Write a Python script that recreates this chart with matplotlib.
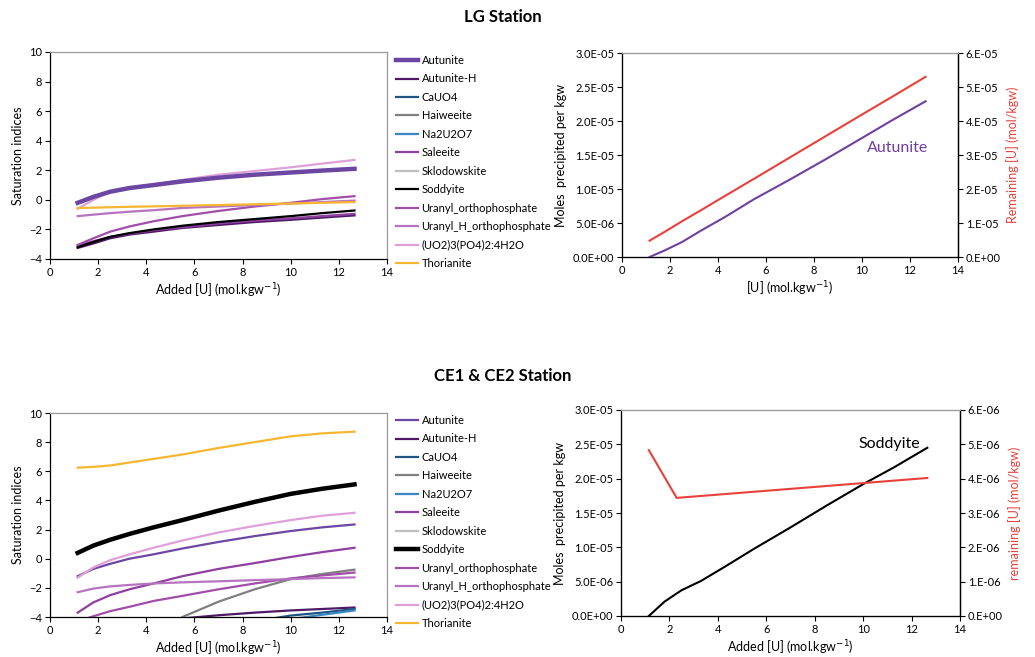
import numpy as np
import matplotlib.pyplot as plt
from matplotlib.ticker import FuncFormatter
from matplotlib.lines import Line2D

plt.rcParams['font.family'] = ['Lato', 'DejaVu Sans']

# ---- data ----
minerals = ["Autunite", "Autunite-H", "CaUO4", "Haiweeite", "Na2U2O7", "Saleeite",
            "Sklodowskite", "Soddyite", "Uranyl_orthophosphate",
            "Uranyl_H_orthophosphate", "(UO2)3(PO4)2:4H2O", "Thorianite"]
colors = ["#6B47A3", "#4E1A66", "#1F5582", "#7F7F7F", "#3A86C4", "#8E3FA0",
          "#BFBFBF", "#000000", "#A04EA8", "#B873C0", "#DDA0D8", "#F5B731"]

u_added = [1.15, 1.8, 2.5, 3.3, 4.3, 5.5, 7.0, 8.5, 10.0, 11.3, 12.65]
nan = np.nan

# LG station saturation indices (series not visible in the range are left out)
si_lg = {
    "Autunite": [-0.2, 0.2, 0.55, 0.8, 1.0, 1.25, 1.5, 1.7, 1.85, 1.98, 2.1],
    "Autunite-H": [-3.25, -2.95, -2.6, -2.35, -2.15, -1.9, -1.7, -1.5, -1.35, -1.2, -1.05],
    "Saleeite": [-3.1, -2.8, -2.5, -2.3, -2.05, -1.85, -1.6, -1.4, -1.25, -1.1, -0.95],
    "Soddyite": [-3.2, -2.85, -2.5, -2.25, -2.0, -1.75, -1.5, -1.3, -1.1, -0.9, -0.72],
    "Uranyl_orthophosphate": [-3.05, -2.6, -2.15, -1.8, -1.45, -1.1, -0.75, -0.45, -0.2, 0.05, 0.25],
    "Uranyl_H_orthophosphate": [-1.1, -1.0, -0.9, -0.8, -0.7, -0.55, -0.45, -0.35, -0.25, -0.15, -0.05],
    "(UO2)3(PO4)2:4H2O": [-0.6, 0.0, 0.55, 0.8, 1.05, 1.35, 1.7, 1.95, 2.2, 2.45, 2.7],
    "Thorianite": [-0.55, -0.53, -0.5, -0.47, -0.44, -0.4, -0.35, -0.3, -0.25, -0.2, -0.15],
}

# CE1 & CE2 station saturation indices
si_ce = {
    "Autunite": [-1.2, -0.7, -0.35, 0.0, 0.3, 0.7, 1.15, 1.55, 1.9, 2.15, 2.35],
    "Autunite-H": [nan, nan, nan, nan, nan, -4.1, -3.88, -3.7, -3.55, -3.45, -3.35],
    "CaUO4": [nan, nan, nan, nan, nan, nan, nan, -4.3, -3.9, -3.7, -3.45],
    "Haiweeite": [nan, nan, nan, nan, nan, -4.0, -2.95, -2.1, -1.4, -1.05, -0.75],
    "Na2U2O7": [nan, nan, nan, nan, nan, nan, nan, nan, -4.15, -3.85, -3.55],
    "Saleeite": [-3.7, -3.0, -2.5, -2.1, -1.7, -1.2, -0.7, -0.3, 0.12, 0.45, 0.75],
    "Soddyite": [0.4, 0.9, 1.3, 1.7, 2.15, 2.65, 3.3, 3.9, 4.45, 4.8, 5.1],
    "Uranyl_orthophosphate": [-4.3, -3.95, -3.6, -3.3, -2.9, -2.55, -2.1, -1.7, -1.35, -1.15, -0.95],
    "Uranyl_H_orthophosphate": [-2.3, -2.05, -1.9, -1.8, -1.7, -1.62, -1.55, -1.47, -1.4, -1.33, -1.28],
    "(UO2)3(PO4)2:4H2O": [-1.3, -0.6, -0.1, 0.3, 0.75, 1.25, 1.8, 2.25, 2.65, 2.95, 3.15],
    "Thorianite": [6.25, 6.3, 6.4, 6.6, 6.85, 7.15, 7.6, 8.0, 8.4, 8.6, 8.72],
}

# precipitated moles and remaining U
autunite_precip_lg = [0, 1.0e-6, 2.2e-6, 3.9e-6, 5.9e-6, 8.5e-6, 1.14e-5, 1.44e-5, 1.75e-5, 2.02e-5, 2.29e-5]
remaining_lg = [4.8e-6, 7.5e-6, 1.05e-5, 1.38e-5, 1.80e-5, 2.30e-5, 2.93e-5, 3.56e-5, 4.19e-5, 4.73e-5, 5.30e-5]
soddyite_precip_ce = [0, 2.1e-6, 3.75e-6, 5.1e-6, 7.2e-6, 9.8e-6, 1.29e-5, 1.61e-5, 1.92e-5, 2.17e-5, 2.45e-5]
u_remaining_ce = [1.15, 2.3, 12.65]
remaining_ce = [4.83e-6, 3.44e-6, 4.02e-6]

W, H = 1035, 657
fig = plt.figure(figsize=(W / 100, H / 100), dpi=100)


def box(l, t, r, b):
    return [l / W, 1 - b / H, (r - l) / W, (b - t) / H]


def style(ax):
    for s in ["top", "right"]:
        ax.spines[s].set_color("#9a9a9a")
    for s in ax.spines.values():
        s.set_linewidth(0.9)
    ax.tick_params(labelsize=8, length=3.5, direction="out", width=0.8, pad=2)
    ax.set_xlim(0, 14)
    ax.set_xticks(range(0, 15, 2))


def si_panel(ax, data, thick):
    style(ax)
    ax.tick_params(top=False, right=False)
    for name, col in zip(minerals, colors):
        if name in data:
            lw = 3.2 if name == thick else 1.6
            ax.plot(u_added, data[name], color=col, lw=lw, zorder=3 if name == thick else 2)
    ax.set_ylim(-4, 10)
    ax.set_yticks(range(-4, 11, 2))
    ax.set_ylabel("Saturation indices", fontsize=9, labelpad=4)
    ax.set_xlabel("Added [U] (mol.kgw$^{-1}$)", fontsize=9, labelpad=3)


def legend(y_top, thick):
    handles = [Line2D([], [], color=c, lw=3.2 if n == thick else 1.6) for n, c in zip(minerals, colors)]
    fig.legend(handles, minerals, loc="upper left", bbox_to_anchor=(396 / W, 1 - y_top / H),
               frameon=False, fontsize=8, labelspacing=0.67, handlelength=2.0,
               handletextpad=0.3, borderaxespad=0, borderpad=0)


fmt_left = FuncFormatter(lambda v, p: f"{v:.1E}")


def fmt_r(v, p):
    m, e = f"{v:.0E}".split("E")
    return f"{m}.E{e}"


def precip_panel(ax, x, y, col, xr, yr, rmax, xlabel, rlabel, name, tx, ty):
    style(ax)
    ax.spines["right"].set_color("black")
    ax.tick_params(top=False, right=False)
    ax.plot(x, y, color=col, lw=1.5, zorder=3)
    ax.set_ylim(0, 3e-5)
    ax.set_yticks(np.arange(0, 3.01e-5, 5e-6))
    ax.yaxis.set_major_formatter(fmt_left)
    ax.set_ylabel("Moles  precipited per kgw", fontsize=9, labelpad=4)
    ax.set_xlabel(xlabel, fontsize=9, labelpad=3)
    ax.text(tx, ty, name, color=col, fontsize=11.5, va="center")
    ax2 = ax.twinx()
    ax2.plot(xr, yr, color="#E8403A", lw=1.5)
    ax2.set_ylim(0, rmax)
    ax2.set_yticks(np.linspace(0, rmax, 7))
    ax2.yaxis.set_major_formatter(FuncFormatter(fmt_r))
    ax2.tick_params(labelsize=8, length=3.5, direction="out", width=0.8, pad=2)
    ax2.spines["top"].set_color("#9a9a9a")
    ax2.spines["right"].set_linewidth(0.9)
    ax2.set_ylabel(rlabel, color="#E8403A", fontsize=9, labelpad=4)


fig.text(503 / W, 1 - 17 / H, "LG Station", ha="center", va="center", fontsize=12, fontweight="bold")
fig.text(503 / W, 1 - 376 / H, "CE1 & CE2 Station", ha="center", va="center", fontsize=12, fontweight="bold")

ax1 = fig.add_axes(box(50, 52, 387, 259))
si_panel(ax1, si_lg, "Autunite")
legend(55, "Autunite")

ax2 = fig.add_axes(box(622, 53, 958, 257))
precip_panel(ax2, u_added, autunite_precip_lg, "#7040A0", u_added, remaining_lg, 6e-5,
             "[U] (mol.kgw$^{-1}$)", "Remaining [U] (mol/kgw)", "Autunite", 10.2, 1.6e-5)

ax3 = fig.add_axes(box(50, 413, 387, 617))
si_panel(ax3, si_ce, "Soddyite")
legend(415, "Soddyite")

ax4 = fig.add_axes(box(621, 410, 960, 616))
precip_panel(ax4, u_added, soddyite_precip_ce, "black", u_remaining_ce, remaining_ce, 6e-6,
             "Added [U] (mol.kgw$^{-1}$)", "remaining [U] (mol/kgw)", "Soddyite", 9.8, 2.5e-5)

fig.savefig("out.png", dpi=100)
